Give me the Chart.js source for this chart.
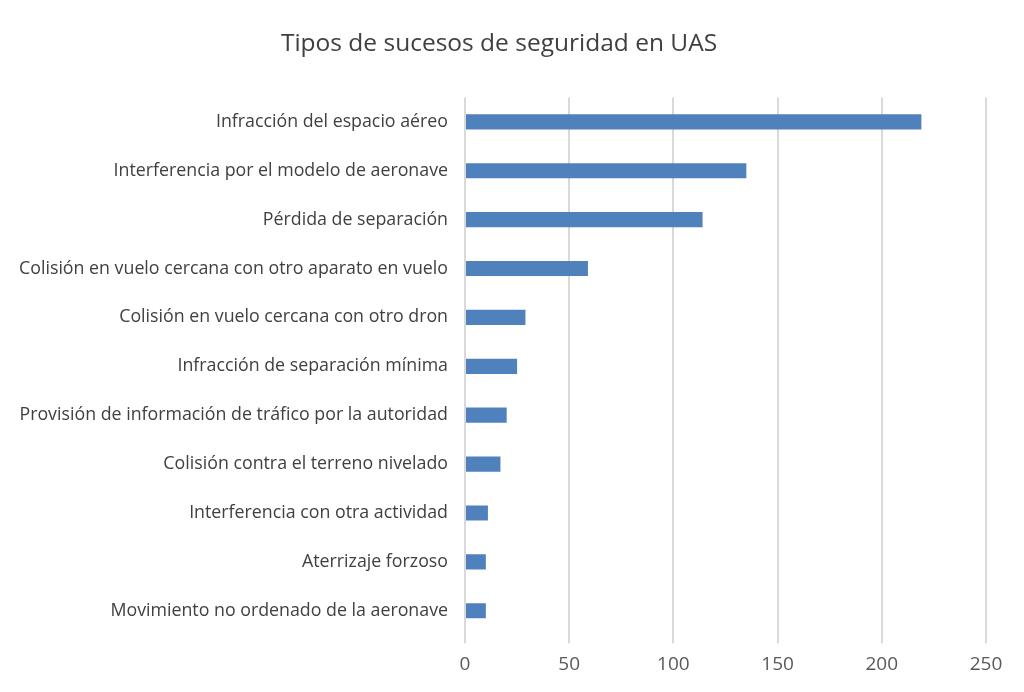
<!DOCTYPE html>
<html>
<head>
<meta charset="utf-8">
<script src="https://cdn.jsdelivr.net/npm/chart.js@4/dist/chart.umd.min.js"></script>
<style>
  html, body { margin: 0; padding: 0; background: #fff; }
  #wrap { width: 1024px; height: 692px; }
</style>
</head>
<body>
<div id="wrap"><canvas id="bar-chart"></canvas></div>
<script>
const categorias = [
  "Infracción del espacio aéreo",
  "Interferencia por el modelo de aeronave",
  "Pérdida de separación",
  "Colisión en vuelo cercana con otro aparato en vuelo",
  "Colisión en vuelo cercana con otro dron",
  "Infracción de separación mínima",
  "Provisión de información de tráfico por la autoridad",
  "Colisión contra el terreno nivelado",
  "Interferencia con otra actividad",
  "Aterrizaje forzoso",
  "Movimiento no ordenado de la aeronave"
];
const sucesos = [219, 135, 114, 59, 29, 25, 20, 17, 11, 10, 10];
const ejeMin = 0;
const ejeMax = 250;
const ejePaso = 50;

const barctx = document.getElementById("bar-chart");

new Chart(barctx, {
  type: "bar",
  data: {
    labels: categorias,
    datasets: [{
      label: "Sucesos",
      data: sucesos,
      backgroundColor: "#4f81bd",
      categoryPercentage: 1,
      barPercentage: 0.31
    }]
  },
  options: {
    indexAxis: "y",
    responsive: true,
    maintainAspectRatio: false,
    animation: false,
    layout: { padding: { left: 12, right: 38, top: 0, bottom: 6 } },
    plugins: {
      legend: { display: false },
      tooltip: { enabled: false },
      title: {
        display: true,
        text: "Tipos de sucesos de seguridad en UAS",
        color: "#404040",
        font: { family: "Open Sans", size: 24.5, weight: "normal" },
        padding: { top: 29, bottom: 39 }
      }
    },
    scales: {
      x: {
        min: ejeMin,
        max: ejeMax,
        ticks: {
          stepSize: ejePaso,
          color: "#595959",
          font: { family: "Open Sans", size: 19 },
          padding: 10
        },
        grid: { color: "#d9d9d9", lineWidth: 2, tickLength: 8 },
        border: { display: false }
      },
      y: {
        afterFit: (s) => { s.width = 453; },
        ticks: {
          color: "#404040",
          font: { family: "Open Sans", size: 17.8 },
          padding: 9
        },
        grid: { display: false },
        border: { display: false }
      }
    }
  }
});
</script>
</body>
</html>
